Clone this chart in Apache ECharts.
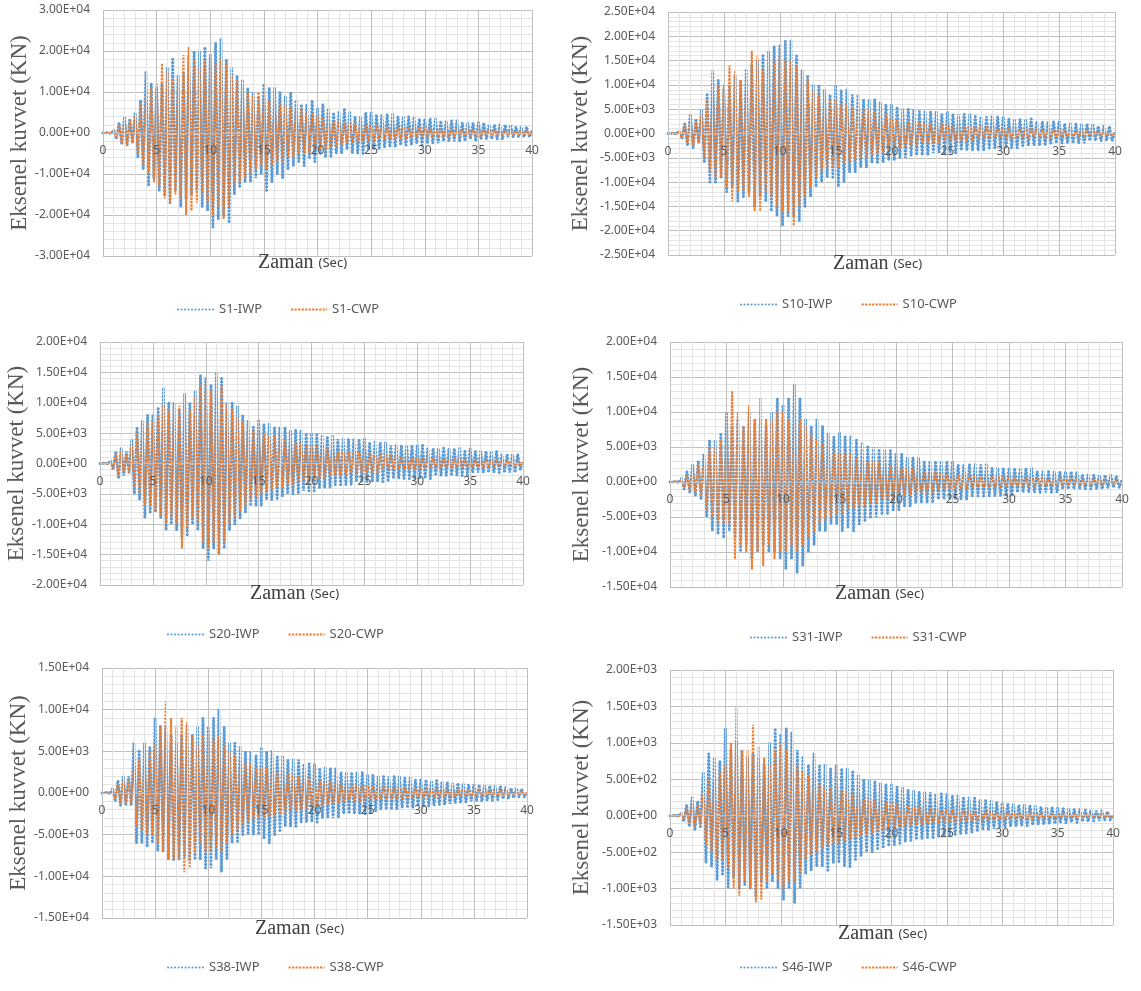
<!DOCTYPE html>
<html><head><meta charset="utf-8">
<script src="https://cdn.jsdelivr.net/npm/echarts@6/dist/echarts.min.js"></script>
<style>html,body{margin:0;padding:0;background:#fff}#c{width:1141px;height:991px}</style>
</head><body><div id="c"></div>
<script>
// ---------------- DATA ----------------
// Sampling step of every series (seconds); samples run from t = 0 to t = 40 s.
const TIME_STEP = 0.25;
const X_MIN = 0, X_MAX = 40, X_STEP = 5;

// Axial force histories. S1..S38 values are in 1E+03 kN, S46 values in kN.
const s1_iwp = [
0,0,0.1,-0.2, 0.8,-1.5,2.5,-2.8, 4,-3,3.5,-2.5, 5,-6,8,-9, 15,-13,12,-11,
11,-14,12,-15, 16,-17,18,-14, 14,-18,15,-16, 19,-15,20,-14, 20,-18,21,-19,
19,-23,22,-21, 23,-20,18,-22, 16,-15,14,-13, 13,-12,11,-12, 10,-11,9,-10,
12,-14,11,-12, 11,-10,10,-11, 9,-9,10,-8, 8,-7,7,-8, 7,-6,8,-7,
6,-5,7,-6, 6,-6,5,-5, 5,-5,6,-4, 5,-5,4,-5, 4,-5,5,-4,
5,-4,4.5,-4, 4.5,-3.5,4.5,-3.5, 4.5,-3.5,4,-3, 4,-3,4,-3, 4,-2.5,3.5,-3,
3.5,-2.5,3.5,-2.5, 3.5,-2.5,3,-2, 3,-2,3,-2, 3,-2,2.5,-2, 2.5,-1.5,2.5,-2,
2.5,-1.5,2.5,-1.5, 2,-1.5,2,-1.5, 2,-1.5,2,-1, 2,-1,1.5,-1, 1.5,-1,1.5,-1,
0.5];
const s1_cwp = [
0,0,0.1,-0.1, 0.5,-1,2,-2.5, 3.5,-3,3,-2.5, 4,-5,7,-8, 9,-10,11,-12,
12,-13,17,-16, 15,-17,13,-15, 14,-16,19,-20, 21,-19,18,-17, 16,-15,18,-17,
18,-20,17,-18, 18,-21,17,-18, 14,-13,13,-12, 12,-11,10,-10, 9,-9,10,-8,
9,-9,8,-8, 8,-7,7,-7, 7,-6,6,-6, 6,-5,6,-5, 5,-5,5,-4.5,
4.5,-4,4,-4, 3.5,-3.5,3,-3, 3,-3,2.5,-2.5, 2.5,-2.5,2.5,-2, 2.5,-2,2,-2,
2,-2,2,-1.5, 2,-1.5,1.5,-1.5, 1.5,-1.5,1.5,-1.5, 1.5,-1.5,1.5,-1, 1.5,-1,1.5,-1,
1.5,-1,1,-1, 1,-1,1,-1, 1,-1,1,-1, 1,-0.8,1,-0.8, 1,-0.8,0.8,-0.8,
0.8,-0.8,0.8,-0.6, 0.8,-0.6,0.6,-0.6, 0.6,-0.6,0.6,-0.5, 0.6,-0.5,0.5,-0.5, 0.5,-0.5,0.5,-0.4,
0.2];
const s10_iwp = [
0,0,0.1,-0.1, 0.5,-1,2,-2.5, 4,-3,3,-2, 5,-6,8,-10, 13,-10,11,-9,
9,-12,10,-11, 12,-14,11,-13, 13,-12,14,-15, 15,-13,16,-14, 17,-16,18,-17,
18,-19,19,-17, 19,-17,16,-18, 13,-15,12,-13, 10,-11,10,-10, 9,-9,8,-9,
10,-11,9,-10, 9,-8,8,-8, 8,-7,7,-7, 7,-6,7,-6, 6.5,-6,6,-5.5,
6,-5.5,5.5,-5, 5,-5,5,-4.5, 5,-4.5,4.5,-4.5, 4.5,-4.5,4.5,-4, 4.5,-4,4,-4,
4.5,-4,4,-4, 4,-3.5,4,-3.5, 4,-3.5,3.5,-3.5, 3.5,-3.5,3.5,-3, 3.5,-3,3.5,-3,
3.5,-3,3,-3, 3,-3,3,-2.5, 3,-2.5,3,-2.5, 2.5,-2.5,2.5,-2.5, 2.5,-2,2.5,-2,
2.5,-2,2,-2, 2,-2,2,-2, 2,-2,2,-1.5, 2,-1.5,1.5,-1.5, 1.5,-1.5,1.5,-1.5,
0.5];
const s10_cwp = [
0,0,0.1,-0.1, 0.5,-1,1.5,-2, 3,-2.5,2.5,-2, 4,-5,7,-8, 9,-9,10,-9,
10,-11,14,-14, 13,-12,11,-12, 12,-13,17,-16, 16,-16,13,-12, 14,-13,15,-15,
16,-16,15,-16, 15,-19,14,-15, 12,-13,11,-11, 9,-9,8,-8, 8,-7,7,-7,
7,-7,6,-6, 6,-6,5.5,-5.5, 5.5,-5,5,-5, 5,-4.5,4.5,-4, 4.5,-4,4,-3.5,
3.5,-3,3,-3, 3,-3,2.5,-2.5, 2.5,-2.5,2.5,-2, 2,-2,2,-2, 2,-2,2,-1.5,
2,-1.5,1.5,-1.5, 1.5,-1.5,1.5,-1.5, 1.5,-1.5,1.5,-1, 1.5,-1,1.5,-1, 1.5,-1,1,-1,
1,-1,1,-1, 1,-1,1,-1, 1,-1,1,-0.8, 1,-0.8,0.8,-0.8, 0.8,-0.8,0.8,-0.8,
0.8,-0.8,0.8,-0.6, 0.8,-0.6,0.6,-0.6, 0.6,-0.6,0.6,-0.5, 0.6,-0.5,0.5,-0.5, 0.5,-0.5,0.5,-0.4,
0.2];
const s20_iwp = [
0,0,0.1,-0.1, 0.5,-1,2,-2.5, 2.5,-2,2,-1.5, 4,-5,6,-6, 7,-9,8,-8,
8,-8,9,-9, 12.5,-11,10,-10, 10,-11,9,-12, 11.5,-12,10,-10, 12,-11,14.5,-14,
14,-16,13,-14, 15,-15,14,-14, 10,-11,10,-10, 9.5,-9,8,-8, 7,-7,6,-7,
7,-7,6.5,-6, 6.5,-6,6,-6, 6,-5.5,6,-5, 5.5,-5,5.5,-5, 5.5,-4.5,5,-4.5,
5,-4.5,5,-4, 4.5,-4,4.5,-4, 4.5,-3.5,4,-3.5, 4,-3.5,4,-3.5, 4,-3,4,-3,
4,-3,3.5,-3, 3.5,-3,3.5,-3, 3.5,-3,3,-2.5, 3,-2.5,3,-2.5, 3,-2.5,3,-2.5,
3,-2.5,3,-2.5, 2.5,-2.5,2.5,-2, 2.5,-2,2.5,-2, 2.5,-2,2.5,-2, 2.5,-2,2,-2,
2.5,-1.5,2,-1.5, 2,-1.5,2,-1.5, 2,-1.5,2,-1.5, 1.5,-1.5,1.5,-1.5, 1.5,-1.5,1.5,-1,
0.5];
const s20_cwp = [
0,0,0.1,-0.1, 0.3,-0.8,1.5,-2, 2,-1.5,1.5,-1.5, 3,-4,5,-5, 6,-7,7,-7,
7,-8,8,-9, 10,-10,9,-9, 9,-10,9.5,-14, 10,-11,9,-9, 11,-10,13,-13,
13,-14,12,-13, 14,-15,13,-13, 10,-10,9,-9, 8,-8,7,-7, 6,-6,5.5,-5.5,
5,-5,5,-4.5, 4.5,-4.5,4.5,-4, 4,-4,4,-3.5, 3.5,-3.5,3.5,-3, 3.5,-3,3,-3,
3,-2.5,3,-2.5, 2.5,-2.5,2.5,-2, 2.5,-2,2,-2, 2,-2,2,-1.5, 2,-1.5,2,-1.5,
1.5,-1.5,1.5,-1.5, 1.5,-1.5,1.5,-1, 1.5,-1,1.5,-1, 1.5,-1,1,-1, 1,-1,1,-1,
1,-1,1,-0.8, 1,-0.8,1,-0.8, 0.8,-0.8,0.8,-0.8, 0.8,-0.8,0.8,-0.6, 0.8,-0.6,0.6,-0.6,
0.6,-0.6,0.6,-0.6, 0.6,-0.6,0.6,-0.5, 0.6,-0.5,0.5,-0.5, 0.5,-0.5,0.5,-0.4, 0.5,-0.4,0.4,-0.4,
0.2];
const s31_iwp = [
0,0,0.1,-0.1, 0.5,-1,1.5,-1.5, 2.5,-2,3,-2.5, 4,-5,6,-7, 6,-7.5,7,-8,
10,-7,8,-8, 9,-10,8,-9, 10,-11,9,-10, 9,-9,8,-10, 10,-10,12,-11,
11,-12.5,12,-11, 14,-13,12,-12, 9,-10,8,-9, 9,-7,8,-7, 7,-6,6.5,-6,
7,-7,6.5,-6.5, 6.5,-7,6,-6, 5.5,-5.5,5,-5, 5,-5,4.5,-4.5, 4.5,-4.5,4.5,-4,
4,-4,4,-3.5, 3.5,-3.5,3.5,-3, 3.5,-3,3,-3, 3,-3,3,-2.5, 3,-2.5,3,-2.5,
3,-2.5,2.5,-2.5, 2.5,-2.5,2.5,-2, 2.5,-2,2.5,-2, 2.5,-2,2,-2, 2,-2,2,-2,
2,-2,2,-1.5, 2,-1.5,2,-1.5, 2,-1.5,1.5,-1.5, 1.5,-1.5,1.5,-1.5, 1.5,-1.5,1.5,-1,
1.5,-1,1.5,-1, 1.5,-1,1,-1, 1,-1,1,-1, 1,-1,1,-0.8, 1,-0.8,0.8,-0.8,
0.3];
const s31_cwp = [
0,0,0.1,-0.1, 0.3,-0.8,1,-1.2, 2,-1.5,2.5,-2, 3,-4,5,-5, 5,-6,6,-6,
7,-6,13,-11, 10,-9,8,-10, 11,-12.5,9,-10, 12,-12,9,-9, 9,-11,10,-10,
10,-10,9,-9, 10,-10,9,-9, 8,-8,7,-7, 6,-6,5.5,-5.5, 5,-5,4.5,-4.5,
4.5,-4.5,4,-4, 4,-4,3.5,-3.5, 3.5,-3.5,3,-3, 3,-3,3,-2.5, 2.5,-2.5,2.5,-2.5,
2.5,-2,2,-2, 2,-2,2,-1.5, 1.5,-1.5,1.5,-1.5, 1.5,-1.5,1.5,-1.2, 1.2,-1.2,1.2,-1,
1.2,-1,1,-1, 1,-1,1,-0.8, 1,-0.8,0.8,-0.8, 0.8,-0.8,0.8,-0.8, 0.8,-0.8,0.8,-0.6,
0.8,-0.6,0.6,-0.6, 0.6,-0.6,0.6,-0.6, 0.6,-0.6,0.6,-0.5, 0.6,-0.5,0.5,-0.5, 0.5,-0.5,0.5,-0.5,
0.5,-0.5,0.5,-0.4, 0.5,-0.4,0.4,-0.4, 0.4,-0.4,0.4,-0.4, 0.4,-0.4,0.4,-0.3, 0.4,-0.3,0.3,-0.3,
0.1];
const s38_iwp = [
0,0,0.1,-0.1, 0.5,-1,1.5,-1.5, 2,-1.5,2,-1.5, 6,-6,5,-6, 6,-6.5,5.5,-6,
9,-7,8,-7, 8,-8,7,-8, 6,-8,7,-7.5, 8,-8,7,-8, 8,-8,9,-9,
8,-9,9,-8, 10,-9.5,8,-8, 6,-6,6,-6, 5.5,-5,5,-5, 5,-5,4.5,-5,
5.5,-5.5,5,-6, 5,-5,4.5,-4.5, 4.5,-4,4,-4, 4,-4,4,-3.5, 3.5,-3.5,3.5,-3.5,
3.5,-3.5,3,-3, 3,-3,3,-3, 3,-3,2.5,-2.5, 2.5,-2.5,2.5,-2.5, 2.5,-2.5,2.5,-2.5,
2.2,-2.4,2.2,-2.2, 2,-2,2,-2, 2,-2,2,-2, 2,-1.8,1.8,-1.8, 1.8,-1.8,1.6,-1.6,
1.6,-1.6,1.6,-1.6, 1.5,-1.5,1.5,-1.4, 1.4,-1.4,1.3,-1.3, 1.2,-1.2,1.2,-1.2, 1.1,-1.1,1,-1,
1,-1,1,-1, 0.9,-0.9,0.9,-0.9, 0.8,-0.8,0.8,-0.7, 0.7,-0.7,0.6,-0.6, 0.6,-0.5,0.5,-0.5,
0.2];
const s38_cwp = [
0,0,0.1,-0.1, 0.3,-0.8,1.2,-1.2, 1.5,-1.2,1.5,-1.2, 3,-4,4,-4.5, 4.5,-5,5,-5,
6,-6,8,-7, 11,-8,9,-8, 8,-8,9,-9.5, 8.5,-9,7,-7, 6,-6,7,-7,
7,-7,6.5,-6.5, 7,-7,6,-6, 5,-5,4.5,-4.5, 4,-4,3.5,-3.5, 3.5,-3.5,3,-3,
3,-3,3,-3, 2.8,-2.8,2.6,-2.6, 2.5,-2.5,2.3,-2.3, 2.2,-2.2,2,-2, 2,-2,1.8,-1.8,
1.6,-1.6,1.5,-1.5, 1.4,-1.4,1.3,-1.3, 1.2,-1.2,1.2,-1.1, 1.1,-1.1,1,-1, 1,-1,1,-0.9,
0.9,-0.9,0.9,-0.8, 0.8,-0.8,0.8,-0.8, 0.8,-0.7,0.7,-0.7, 0.7,-0.7,0.7,-0.6, 0.6,-0.6,0.6,-0.6,
0.6,-0.6,0.5,-0.5, 0.5,-0.5,0.5,-0.5, 0.5,-0.5,0.5,-0.4, 0.4,-0.4,0.4,-0.4, 0.4,-0.4,0.4,-0.4,
0.4,-0.3,0.3,-0.3, 0.3,-0.3,0.3,-0.3, 0.3,-0.3,0.3,-0.3, 0.3,-0.2,0.2,-0.2, 0.2,-0.2,0.2,-0.2,
0.1];
const s46_iwp = [
0,0,10,-10, 40,-80,150,-150, 250,-200,200,-150, 600,-650,850,-700, 800,-890,750,-800,
1200,-980,900,-850, 1000,-1000,900,-950, 800,-1000,850,-1100, 800,-900,700,-1000, 1000,-900,1200,-1000,
1100,-1150,1200,-1000, 1150,-1200,900,-1000, 800,-800,700,-750, 850,-700,700,-700, 700,-750,650,-650,
700,-650,650,-700, 650,-700,600,-600, 550,-550,500,-500, 500,-500,480,-450, 450,-450,430,-420,
420,-400,400,-380, 380,-360,360,-340, 350,-330,330,-320, 320,-300,320,-300, 300,-290,300,-280,
300,-270,280,-260, 270,-250,260,-240, 250,-230,240,-220, 220,-200,210,-200, 200,-180,190,-170,
180,-160,170,-150, 160,-150,150,-140, 150,-140,140,-130, 130,-120,120,-120, 120,-110,110,-110,
110,-100,100,-100, 100,-90,90,-90, 90,-80,80,-80, 80,-70,70,-70, 70,-60,60,-60,
20];
const s46_cwp = [
0,0,5,-5, 20,-50,100,-100, 180,-150,150,-120, 300,-400,500,-500, 500,-600,600,-600,
700,-700,1000,-1000, 1500,-1100,900,-900, 900,-1000,1250,-1190, 950,-1150,800,-900, 700,-800,900,-900,
1000,-1000,900,-900, 800,-900,700,-800, 600,-600,550,-550, 500,-500,450,-450, 400,-400,380,-380,
380,-380,350,-350, 330,-330,300,-300, 280,-280,260,-260, 240,-240,220,-220, 200,-200,190,-190,
180,-170,160,-160, 150,-150,140,-140, 130,-130,120,-120, 110,-110,100,-100, 100,-100,90,-90,
90,-90,80,-80, 80,-80,75,-75, 70,-70,65,-65, 60,-60,60,-60, 55,-55,50,-50,
50,-50,45,-45, 45,-45,40,-40, 40,-40,40,-40, 35,-35,35,-35, 30,-30,30,-30,
30,-30,25,-25, 25,-25,25,-25, 20,-20,20,-20, 20,-20,15,-15, 15,-15,15,-15,
5];

// Stations, their value unit (kN per stored unit) and y-axis tick range [min, max, step] in kN.
const STATIONS   = ['S1', 'S10', 'S20', 'S31', 'S38', 'S46'];
const IWP_VALUES = [s1_iwp, s10_iwp, s20_iwp, s31_iwp, s38_iwp, s46_iwp];
const CWP_VALUES = [s1_cwp, s10_cwp, s20_cwp, s31_cwp, s38_cwp, s46_cwp];
const UNITS      = [1000, 1000, 1000, 1000, 1000, 1];
const Y_RANGES   = [[-30000,30000,10000],[-25000,25000,5000],[-20000,20000,5000],
                    [-15000,20000,5000],[-15000,15000,5000],[-1500,2000,500]];
const Y_TITLE = 'Eksenel kuvvet (KN)';
const X_TITLE = 'Zaman';
const X_UNIT  = '(Sec)';

// ---------------- LAYOUT ----------------
const LAYOUT = [
  {grid:{left:103, top:10,  width:429, height:246}, gap:71, xt:{left:258, top:253}, lg:{left:177, top:303}},
  {grid:{left:668, top:12,  width:447, height:243}, gap:76, xt:{left:833, top:254}, lg:{left:740, top:298}},
  {grid:{left:100, top:342, width:423, height:243}, gap:67, xt:{left:250, top:584}, lg:{left:167, top:628}},
  {grid:{left:670, top:342, width:452, height:245}, gap:77, xt:{left:835, top:584}, lg:{left:750, top:631}},
  {grid:{left:102, top:668, width:425, height:250}, gap:69, xt:{left:255, top:919}, lg:{left:167, top:961}},
  {grid:{left:670, top:670, width:443, height:255}, gap:77, xt:{left:838, top:924}, lg:{left:740, top:961}}
];

function fmtE(v) {
  const s = Number(v).toExponential(2);
  const parts = s.split('e');
  const n = parseInt(parts[1], 10);
  return parts[0] + 'E' + (n < 0 ? '-' : '+') + String(Math.abs(n)).padStart(2, '0');
}
function toPoints(arr, unit) {
  return arr.map((v, i) => [i * TIME_STEP, v * unit]);
}
// distance (px) from the bottom of a grid up to its y = 0 line
function zeroOffset(i) {
  const r = Y_RANGES[i];
  return -LAYOUT[i].grid.height * (0 - r[0]) / (r[1] - r[0]);
}

const LABEL_COLOR = '#595959';
const MAJOR = '#BFBFBF', MINOR = '#E4E4E4';
const SANS = 'Noto Sans';
const SERIF = 'Liberation Serif';

const option = {
  backgroundColor: '#ffffff',
  animation: false,
  grid: LAYOUT.map(l => Object.assign({containLabel: false}, l.grid)),
  xAxis: LAYOUT.map((l, i) => ({
    type: 'value', gridIndex: i, min: X_MIN, max: X_MAX, interval: X_STEP,
    position: 'bottom', offset: zeroOffset(i), z: 5,
    axisLine: {show: true, onZero: false, lineStyle: {color: MAJOR, width: 1}},
    axisTick: {show: false},
    axisLabel: {color: LABEL_COLOR, fontFamily: SANS, fontSize: 12, margin: 12},
    splitLine: {show: true, lineStyle: {color: MAJOR, width: 1}},
    minorTick: {show: false, splitNumber: 5},
    minorSplitLine: {show: true, lineStyle: {color: MINOR, width: 1}}
  })),
  yAxis: LAYOUT.map((l, i) => ({
    type: 'value', gridIndex: i, min: Y_RANGES[i][0], max: Y_RANGES[i][1], interval: Y_RANGES[i][2],
    name: Y_TITLE, nameLocation: 'middle', nameGap: l.gap,
    nameTextStyle: {fontFamily: SERIF, fontSize: 23, color: LABEL_COLOR, fontWeight: 'normal'},
    axisLine: {show: false, onZero: false}, axisTick: {show: false},
    axisLabel: {color: LABEL_COLOR, fontFamily: SANS, fontSize: 12, margin: 13, formatter: fmtE},
    splitLine: {show: true, lineStyle: {color: MAJOR, width: 1}},
    minorTick: {show: false, splitNumber: 5},
    minorSplitLine: {show: true, lineStyle: {color: MINOR, width: 1}}
  })),
  title: LAYOUT.map(l => ({
    text: '{z|' + X_TITLE + '} {s|' + X_UNIT + '}',
    left: l.xt.left, top: l.xt.top, padding: 0,
    textStyle: {fontWeight: 'normal', rich: {
      z: {fontFamily: SERIF, fontSize: 20, color: '#404040', fontWeight: 'normal'},
      s: {fontFamily: SANS, fontSize: 13, color: '#404040', fontWeight: 'normal'}
    }}
  })),
  legend: LAYOUT.map((l, i) => ({
    data: [STATIONS[i] + '-IWP', STATIONS[i] + '-CWP'],
    left: l.lg.left, top: l.lg.top, padding: 0,
    itemWidth: 36, itemHeight: 10, itemGap: 28,
    itemStyle: {opacity: 0},
    textStyle: {color: LABEL_COLOR, fontFamily: SANS, fontSize: 13}
  })),
  series: STATIONS.flatMap((st, i) => [
    {
      type: 'line', name: st + '-IWP', xAxisIndex: i, yAxisIndex: i,
      data: toPoints(IWP_VALUES[i], UNITS[i]), symbol: 'none', showSymbol: false, z: 2,
      itemStyle: {color: '#5B9BD5'},
      lineStyle: {color: '#5B9BD5', width: 3, type: [0.1, 3.4], cap: 'round'}
    },
    {
      type: 'line', name: st + '-CWP', xAxisIndex: i, yAxisIndex: i,
      data: toPoints(CWP_VALUES[i], UNITS[i]), symbol: 'none', showSymbol: false, z: 3,
      itemStyle: {color: '#ED7D31'},
      lineStyle: {color: '#ED7D31', width: 2, type: [2.2, 1.3]}
    }
  ])
};

const chart = echarts.init(document.getElementById('c'), null, {renderer: 'canvas'});
chart.setOption(option);
</script>
</body></html>
